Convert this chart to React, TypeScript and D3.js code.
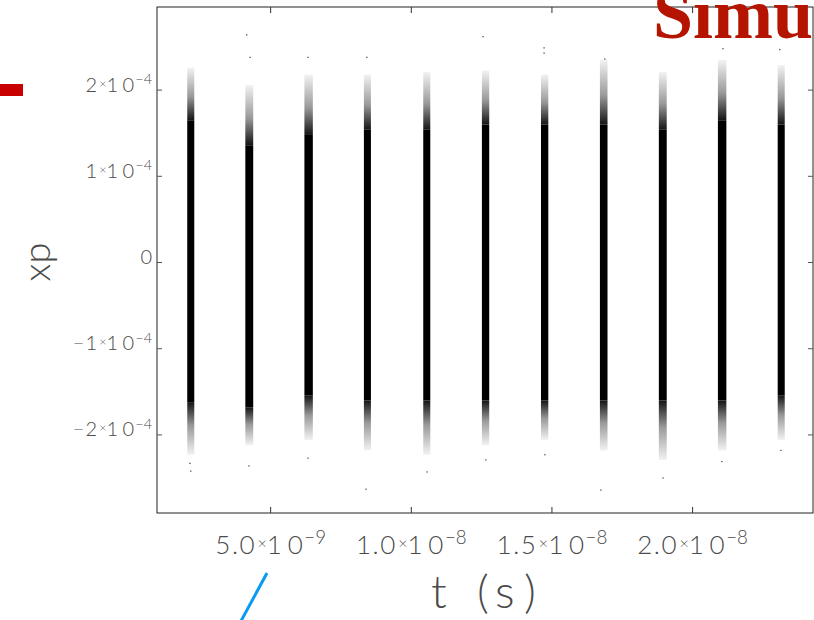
import * as d3 from 'd3';

// band centres (ns) and widths (ns)
const bandT = [2.16, 4.24, 6.35, 8.44, 10.55, 12.64, 14.74, 16.84, 18.94, 21.05, 23.15];
const bandW = [0.25, 0.28, 0.3, 0.25, 0.25, 0.26, 0.26, 0.27, 0.28, 0.3, 0.25];
// solid core extent (units of 1e-4)
const coreHi = [1.65, 1.36, 1.48, 1.54, 1.54, 1.6, 1.6, 1.6, 1.54, 1.65, 1.6];
const coreLo = [-1.62, -1.68, -1.54, -1.6, -1.6, -1.6, -1.6, -1.6, -1.6, -1.6, -1.54];
// sparse tail extent (units of 1e-4)
const tailHi = [2.26, 2.06, 2.18, 2.18, 2.21, 2.23, 2.18, 2.35, 2.21, 2.35, 2.29];
const tailLo = [-2.23, -2.12, -2.06, -2.18, -2.23, -2.12, -2.06, -2.18, -2.29, -2.18, -2.06];
// lone outliers [t ns, xp 1e-4]
const outliers = [
  [4.15, 2.64], [4.27, 2.38], [6.33, 2.38], [8.42, 2.38], [12.55, 2.62],
  [14.72, 2.49], [14.72, 2.43], [16.88, 2.36], [20.94, 2.69], [21.08, 2.48],
  [23.1, 2.47], [2.13, -2.33], [2.16, -2.42], [4.23, -2.36], [6.33, -2.27],
  [8.39, -2.63], [10.56, -2.43], [12.65, -2.29], [14.75, -2.23], [16.74, -2.64],
  [18.95, -2.5], [21.04, -2.31], [23.14, -2.18],
];

const xTicks = [5e-9, 1e-8, 1.5e-8, 2e-8];
const xTickMant = ['5.0', '1.0', '1.5', '2.0'];
const xTickExp = ['−9', '−8', '−8', '−8'];
const yTicks = [-2e-4, -1e-4, 0, 1e-4, 2e-4];
const yTickMant = ['−2', '−1', '0', '1', '2'];

const xDomain = [0.96e-9, 2.428e-8];
const yDomain = [-2.906e-4, 2.964e-4];

const FONT = 'Lato, "DejaVu Sans", sans-serif';
const GRAY = '#4a4a4a';

const left = 157, right = 813, top = 7, bottom = 513;

function SciLabel({ x, y, mant, exp, anchor, size }: any) {
  const s = size;
  if (exp == null) {
    return (
      <text x={x} y={y} textAnchor={anchor} fontFamily={FONT} fontWeight={300} fontSize={s} fill={GRAY}>{mant}</text>
    );
  }
  return (
    <text x={x} y={y} textAnchor={anchor} fontFamily={FONT} fontWeight={300} fontSize={s} fill={GRAY}>
      <tspan letterSpacing={s * 0.06}>{mant}</tspan>
      <tspan fontSize={s * 0.62} dx={s * 0.05} dy={-s * 0.2}>×</tspan>
      <tspan dy={s * 0.2}>1</tspan>
      <tspan dx={s * 0.22}>0</tspan>
      <tspan fontSize={s * 0.72} dx={s * 0.06} dy={-s * 0.37}>{exp}</tspan>
    </text>
  );
}

export default function App() {
  const x = d3.scaleLinear().domain(xDomain).range([left, right]);
  const y = d3.scaleLinear().domain(yDomain).range([bottom, top]);

  return (
    <svg width={814} height={620} style={{ position: 'absolute', left: 0, top: 0, background: '#fff' }}>
      <defs>
        <linearGradient id="fadeUp" x1="0" y1="0" x2="0" y2="1">
          <stop offset="0" stopColor="#000" stopOpacity={0.05} />
          <stop offset="0.55" stopColor="#000" stopOpacity={0.4} />
          <stop offset="1" stopColor="#000" stopOpacity={0.92} />
        </linearGradient>
        <linearGradient id="fadeDown" x1="0" y1="0" x2="0" y2="1">
          <stop offset="0" stopColor="#000" stopOpacity={0.92} />
          <stop offset="0.45" stopColor="#000" stopOpacity={0.4} />
          <stop offset="1" stopColor="#000" stopOpacity={0.05} />
        </linearGradient>
        <clipPath id="plot">
          <rect x={left} y={top} width={right - left} height={bottom - top} />
        </clipPath>
      </defs>

      <g clipPath="url(#plot)">
        {bandT.map((t, i) => {
          const x0 = x((t - bandW[i] / 2) * 1e-9);
          const w = x((t + bandW[i] / 2) * 1e-9) - x0;
          return (
            <g key={i}>
              <rect x={x0} y={y(tailHi[i] * 1e-4)} width={w} height={y(coreHi[i] * 1e-4) - y(tailHi[i] * 1e-4)} fill="url(#fadeUp)" />
              <rect x={x0} y={y(coreHi[i] * 1e-4)} width={w} height={y(coreLo[i] * 1e-4) - y(coreHi[i] * 1e-4)} fill="#000" />
              <rect x={x0} y={y(coreLo[i] * 1e-4)} width={w} height={y(tailLo[i] * 1e-4) - y(coreLo[i] * 1e-4)} fill="url(#fadeDown)" />
            </g>
          );
        })}
        {outliers.map((d, i) => (
          <rect key={i} x={x(d[0] * 1e-9) - 0.6} y={y(d[1] * 1e-4) - 0.6} width={1.2} height={1.2} fill="#333" />
        ))}
      </g>

      {/* frame */}
      <rect x={left} y={top} width={right - left} height={bottom - top} fill="none" stroke="#222" strokeWidth={1} />

      {/* ticks */}
      {xTicks.map((t, i) => (
        <g key={'xt' + i}>
          <line x1={x(t)} x2={x(t)} y1={bottom} y2={bottom - 6} stroke="#333" />
          <line x1={x(t)} x2={x(t)} y1={top} y2={top + 6} stroke="#333" />
          <SciLabel x={x(t)} y={554} mant={xTickMant[i]} exp={xTickExp[i]} anchor="middle" size={26} />
        </g>
      ))}
      {yTicks.map((v, i) => (
        <g key={'yt' + i}>
          <line x1={left} x2={left + 5} y1={y(v)} y2={y(v)} stroke="#555" />
          <line x1={right} x2={right - 5} y1={y(v)} y2={y(v)} stroke="#555" />
          <SciLabel x={152} y={y(v) + 1.5} mant={yTickMant[i]} exp={v === 0 ? null : '−4'} anchor="end" size={20} />
        </g>
      ))}

      {/* axis titles */}
      <text y={608} fontFamily={FONT} fontWeight={300} fontSize={46} fill={GRAY}>
        <tspan x={431}>t</tspan>
        <tspan x={477}>(</tspan>
        <tspan x={495}>s</tspan>
        <tspan x={524}>)</tspan>
      </text>
      <text transform="translate(50,262) rotate(-90)" textAnchor="middle" fontFamily={FONT} fontWeight={300} fontSize={38} fill={GRAY}>xp</text>

      {/* page leftovers around the figure */}
      <rect x={0} y={84} width={23} height={12} fill="#c80000" />
      <line x1={267} y1={573} x2={241} y2={621} stroke="#0a9bf0" strokeWidth={3} />
      <text x={653} y={38} fontFamily='"Liberation Serif", serif' fontWeight={700} fontSize={72} fill="#b51500">Simu</text>
    </svg>
  );
}
